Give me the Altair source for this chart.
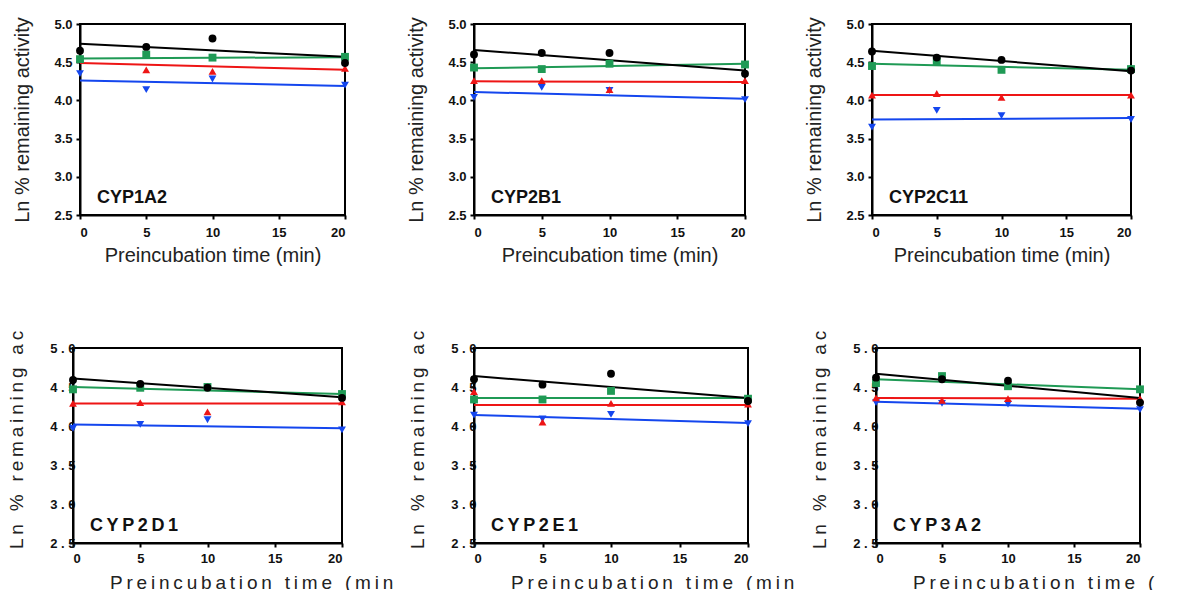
import altair as alt
import pandas as pd

# ---------------- data ----------------
TIMES = [0, 5, 10, 20]
FIT_TIMES = [0, 20]
PANELS = ["CYP1A2", "CYP2B1", "CYP2C11", "CYP2D1", "CYP2E1", "CYP3A2"]
SERIES = ["Series 1", "Series 2", "Series 3", "Series 4"]
Y_TICKS = [2.5, 3.0, 3.5, 4.0, 4.5, 5.0]
X_TICKS = [0, 5, 10, 15, 20]
Y_TITLE = "Ln % remaining activity"
X_TITLE = "Preincubation time (min)"

# observed points (ln % remaining activity) at TIMES
S1_POINTS = {  # black circles
    "CYP1A2": [4.65, 4.70, 4.81, 4.49],
    "CYP2B1": [4.60, 4.62, 4.62, 4.35],
    "CYP2C11": [4.64, 4.56, 4.53, 4.39],
    "CYP2D1": [4.59, 4.54, 4.49, 4.36],
    "CYP2E1": [4.60, 4.53, 4.67, 4.32],
    "CYP3A2": [4.62, 4.60, 4.58, 4.30],
}
S2_POINTS = {  # green squares
    "CYP1A2": [4.54, 4.60, 4.56, 4.57],
    "CYP2B1": [4.43, 4.41, 4.48, 4.47],
    "CYP2C11": [4.45, 4.51, 4.40, 4.41],
    "CYP2D1": [4.47, 4.49, 4.50, 4.41],
    "CYP2E1": [4.34, 4.34, 4.45, 4.35],
    "CYP3A2": [4.55, 4.64, 4.51, 4.47],
}
S3_POINTS = {  # red up-triangles
    "CYP1A2": [4.54, 4.40, 4.38, 4.42],
    "CYP2B1": [4.26, 4.26, 4.14, 4.26],
    "CYP2C11": [4.07, 4.09, 4.04, 4.07],
    "CYP2D1": [4.29, 4.30, 4.18, 4.31],
    "CYP2E1": [4.44, 4.05, 4.29, 4.28],
    "CYP3A2": [4.36, 4.33, 4.35, 4.35],
}
S4_POINTS = {  # blue down-triangles
    "CYP1A2": [4.35, 4.14, 4.28, 4.20],
    "CYP2B1": [4.04, 4.17, 4.13, 4.01],
    "CYP2C11": [3.65, 3.87, 3.80, 3.75],
    "CYP2D1": [3.97, 4.02, 4.08, 3.95],
    "CYP2E1": [4.14, 4.09, 4.15, 4.03],
    "CYP3A2": [4.30, 4.29, 4.28, 4.21],
}
# fitted lines (value at t=0 and t=20)
S1_FIT = {"CYP1A2": [4.74, 4.57], "CYP2B1": [4.66, 4.39], "CYP2C11": [4.65, 4.38],
          "CYP2D1": [4.61, 4.37], "CYP2E1": [4.64, 4.36], "CYP3A2": [4.67, 4.36]}
S2_FIT = {"CYP1A2": [4.55, 4.565], "CYP2B1": [4.42, 4.48], "CYP2C11": [4.48, 4.40],
          "CYP2D1": [4.50, 4.41], "CYP2E1": [4.36, 4.36], "CYP3A2": [4.60, 4.47]}
S3_FIT = {"CYP1A2": [4.49, 4.40], "CYP2B1": [4.25, 4.24], "CYP2C11": [4.07, 4.07],
          "CYP2D1": [4.29, 4.29], "CYP2E1": [4.27, 4.27], "CYP3A2": [4.36, 4.35]}
S4_FIT = {"CYP1A2": [4.26, 4.19], "CYP2B1": [4.11, 4.02], "CYP2C11": [3.75, 3.77],
          "CYP2D1": [4.02, 3.97], "CYP2E1": [4.14, 4.04], "CYP3A2": [4.31, 4.22]}

COLORS = ["#000000", "#1f9a55", "#ee1515", "#1446ee"]
SHAPES = ["circle", "square", "triangle-up", "triangle-down"]
FONT = "Liberation Sans"

POINTS = [S1_POINTS, S2_POINTS, S3_POINTS, S4_POINTS]
FITS = [S1_FIT, S2_FIT, S3_FIT, S4_FIT]
DRAW_ORDER = [3, 2, 1, 0]

pt_rows, fit_rows = [], []
for p in PANELS:
    for si in DRAW_ORDER:
        for t, v in zip(TIMES, POINTS[si][p]):
            pt_rows.append({"panel": p, "series": SERIES[si], "time": t, "value": v})
        for t, v in zip(FIT_TIMES, FITS[si][p]):
            fit_rows.append({"panel": p, "series": SERIES[si], "time": t, "value": v})
pts_df = pd.DataFrame(pt_rows)
fit_df = pd.DataFrame(fit_rows)

color = alt.Color("series:N", scale=alt.Scale(domain=SERIES, range=COLORS), legend=None)
shape = alt.Shape("series:N", scale=alt.Scale(domain=SERIES, range=SHAPES), legend=None)

THIN = "\u2009"
ZWSP = "\u200b"


def spaced(s):
    return THIN.join(s)


def panel(name, w, h, bottom):
    xs = alt.Scale(domain=[0, 20], nice=False, zero=False)
    ys = alt.Scale(domain=[2.5, 5.0], nice=False, zero=False)
    if bottom:
        xaxis = alt.Axis(title=None, values=X_TICKS, labelPadding=5)
        yaxis = alt.Axis(title=None, values=Y_TICKS, format=".1f", labelPadding=-6,
                         labelExpr="replace(format(datum.value, '.1f'), '.', ' . ')")
    else:
        xaxis = alt.Axis(title=X_TITLE, values=X_TICKS, labelPadding=7, titlePadding=6)
        yaxis = alt.Axis(title=Y_TITLE, values=Y_TICKS, format=".1f", labelPadding=4,
                         titlePadding=21)
    x = alt.X("time:Q", scale=xs, axis=xaxis)
    y = alt.Y("value:Q", scale=ys, axis=yaxis)

    lines = alt.Chart(fit_df[fit_df.panel == name]).mark_line(strokeWidth=2).encode(
        x=x, y=y, color=color, detail="series:N")
    points = alt.Chart(pts_df[pts_df.panel == name]).mark_point(
        filled=True, opacity=1, size=62, strokeWidth=0).encode(x=x, y=y, color=color, shape=shape)

    label_text = spaced(name) if bottom else name
    label = alt.Chart(pd.DataFrame({"t": [label_text]})).mark_text(
        align="left", baseline="alphabetic", font=FONT, fontSize=18, fontWeight="bold",
        color="#111111").encode(x=alt.value(17), y=alt.value(h - 12), text="t:N")
    layers = [lines, points, label]
    if bottom:
        ytitle = alt.Chart(pd.DataFrame({"t": [spaced(Y_TITLE)]})).mark_text(
            align="left", baseline="middle", angle=270, font=FONT, fontSize=19,
            color="#222222", limit=222, ellipsis=ZWSP).encode(
            x=alt.value(-56), y=alt.value(h + 6), text="t:N")
        xlimit = 284 if name != "CYP3A2" else 258
        xtitle = alt.Chart(pd.DataFrame({"t": [spaced(X_TITLE)]})).mark_text(
            align="left", baseline="alphabetic", font=FONT, fontSize=19,
            color="#222222", limit=xlimit, ellipsis=ZWSP).encode(
            x=alt.value(37), y=alt.value(h + 46), text="t:N")
        layers += [ytitle, xtitle]
    return alt.layer(*layers).properties(width=w, height=h)


def spacer(w, h):
    return alt.Chart(pd.DataFrame({"s": [0]})).mark_point(opacity=0).properties(
        width=w, height=h, view=alt.ViewBackground(strokeOpacity=0))


TOP_H, BOT_H = 191, 195
row1 = alt.hconcat(
    spacer(7, TOP_H), panel("CYP1A2", 265, TOP_H, False),
    spacer(129, TOP_H), panel("CYP2B1", 271, TOP_H, False),
    spacer(127, TOP_H), panel("CYP2C11", 259, TOP_H, False),
    spacing=0, bounds="flush")
row2 = alt.hconcat(
    panel("CYP2D1", 269, BOT_H, True),
    spacer(132, BOT_H), panel("CYP2E1", 274, BOT_H, True),
    spacer(128, BOT_H), panel("CYP3A2", 264, BOT_H, True),
    spacing=0, bounds="flush")

# with flush bounds the nested row contributes no height, so the row gap
# includes the top row's plot height (191 + 133)
chart = alt.vconcat(row1, row2, spacing=TOP_H + 133, bounds="flush").properties(
    padding={"left": -2, "top": 7, "right": 0, "bottom": 0}
).configure_view(
    stroke="#000000", strokeWidth=2
).configure_axis(
    grid=False, domainColor="#000000", domainWidth=2, tickColor="#000000", tickWidth=2,
    tickSize=4, labelFont=FONT, labelFontSize=13, labelFontWeight="bold", labelColor="#111111",
    titleFont=FONT, titleFontSize=20, titleFontWeight="normal", titleColor="#222222"
)

chart.save("out.html", embed_options={"renderer": "svg", "actions": False})
